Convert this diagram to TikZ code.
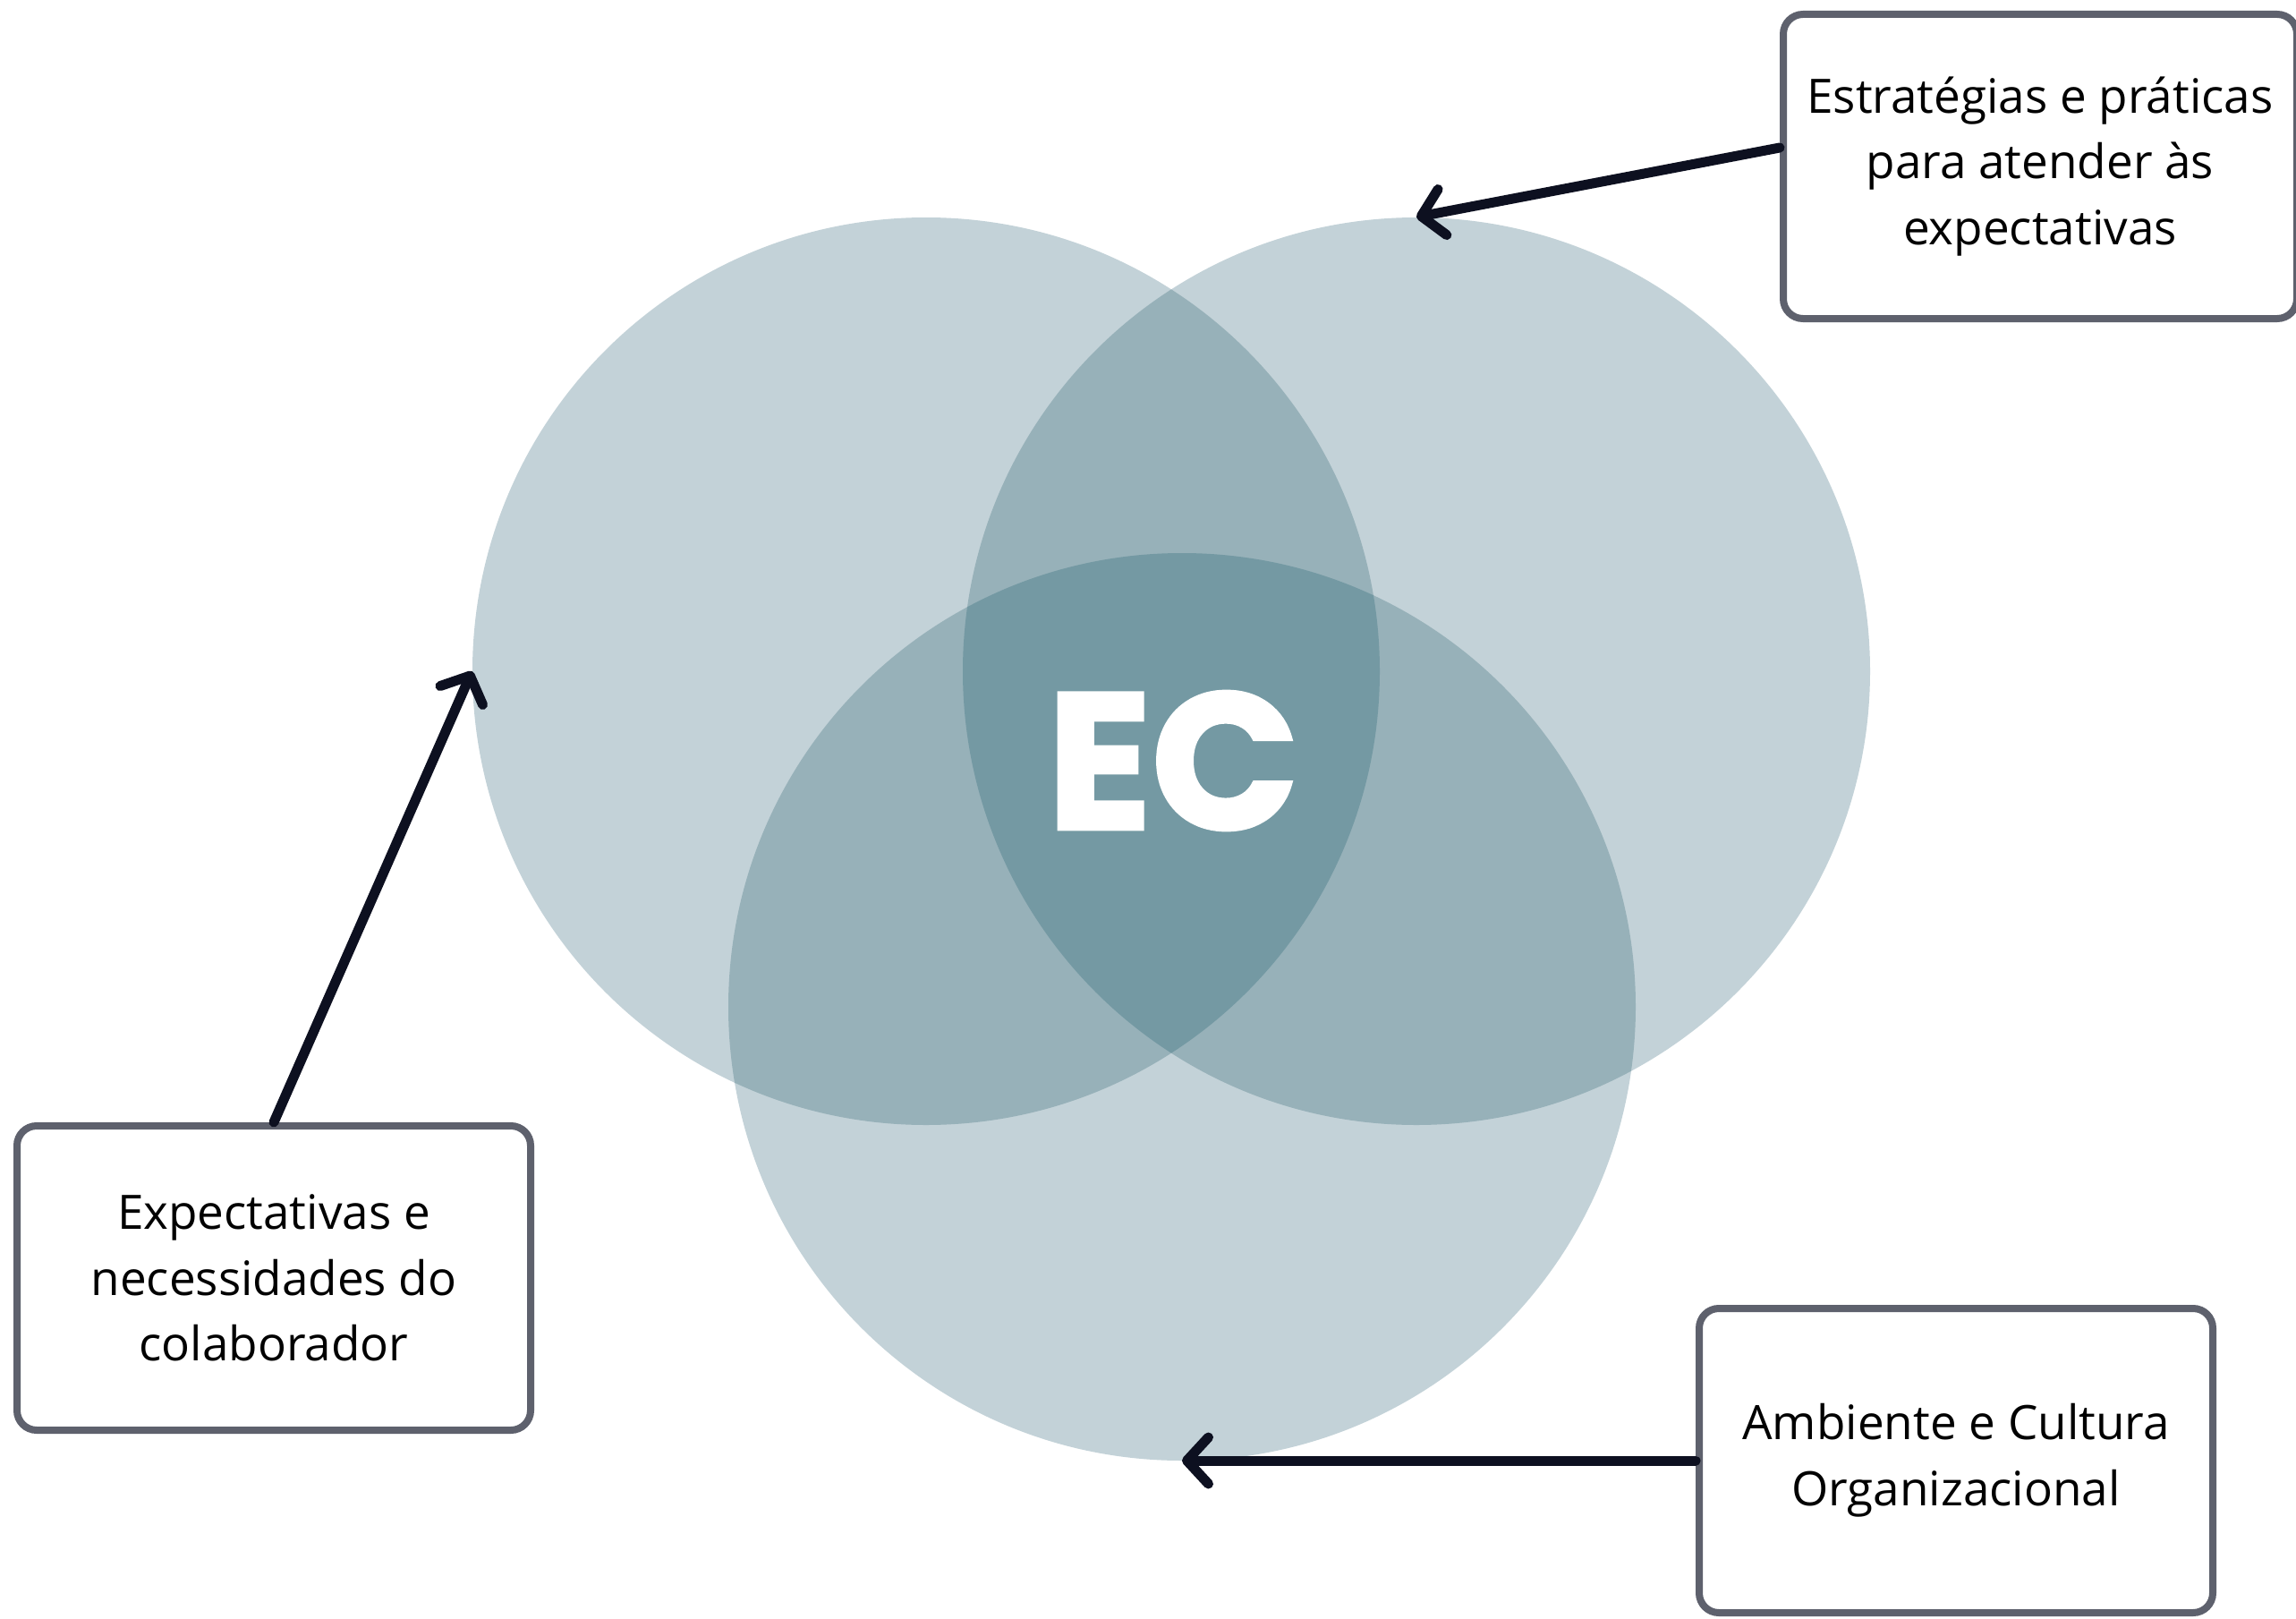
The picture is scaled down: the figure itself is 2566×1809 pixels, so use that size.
\documentclass[tikz,border=0pt]{standalone}
\usepackage{fontspec}
\setmainfont{Open Sans}
\newfontfamily\ecfont{Poppins}[BoldFeatures={FakeBold=2}]
\usetikzlibrary{arrows.meta}
\definecolor{clight}{HTML}{C3D2D8}
\definecolor{cmid}{HTML}{97B1B9}
\definecolor{cdark}{HTML}{7499A3}
\definecolor{boxgray}{HTML}{5E616D}
\definecolor{arrowdark}{HTML}{0D1020}
\begin{document}
\begin{tikzpicture}[x=0.5pt,y=-0.5pt,
  labelbox/.style={draw=boxgray, line width=4pt, rounded corners=11pt, fill=white,
    minimum width=287pt, minimum height=170pt, align=center, inner sep=0pt,
    font=\fontsize{26.5}{36.8}\selectfont},
  venn/.style={circle, inner sep=0pt, minimum size=507pt},
  pointer/.style={draw=arrowdark, line width=5.5pt, line cap=round,
    -{Straight Barb[length=12pt,width=26pt,round]}}]
\useasboundingbox (0,0) rectangle (2566,1809);
\fill[white] (0,0) rectangle (2566,1809);
\def\R{507}
% circles
\node[venn, fill=clight] (c1) at (1035,750) {};
\node[venn, fill=clight] (c2) at (1583,750) {};
\node[venn, fill=clight] (c3) at (1321,1125) {};
% pairwise overlaps
\begin{scope}
  \clip (1035,750) circle[radius=\R];
  \fill[cmid] (1583,750) circle[radius=\R];
  \fill[cmid] (1321,1125) circle[radius=\R];
\end{scope}
\begin{scope}
  \clip (1583,750) circle[radius=\R];
  \fill[cmid] (1321,1125) circle[radius=\R];
\end{scope}
% triple overlap
\begin{scope}
  \clip (1035,750) circle[radius=\R];
  \clip (1583,750) circle[radius=\R];
  \fill[cdark] (1321,1125) circle[radius=\R];
\end{scope}
\node[font=\ecfont\bfseries\fontsize{108}{108}\selectfont, text=white, inner sep=0pt] (ec) at (1311,850) {EC};
% boxes
\node[labelbox] (tr) at (2280,186) {Estratégias e práticas\\para atender às\\expectativas};
\node[labelbox] (lb) at (306,1428) {Expectativas e\\necessidades do\\colaborador};
\node[labelbox] (br) at (2186,1632) {Ambiente e Cultura\\Organizacional};
% arrows
\draw[pointer] ([yshift=10.5pt]tr.west) -- (c2.north);
\draw[pointer] (lb.north) -- (c1.west);
\draw[pointer] (br.west) -- (br.west -| c3.south);
\end{tikzpicture}
\end{document}
